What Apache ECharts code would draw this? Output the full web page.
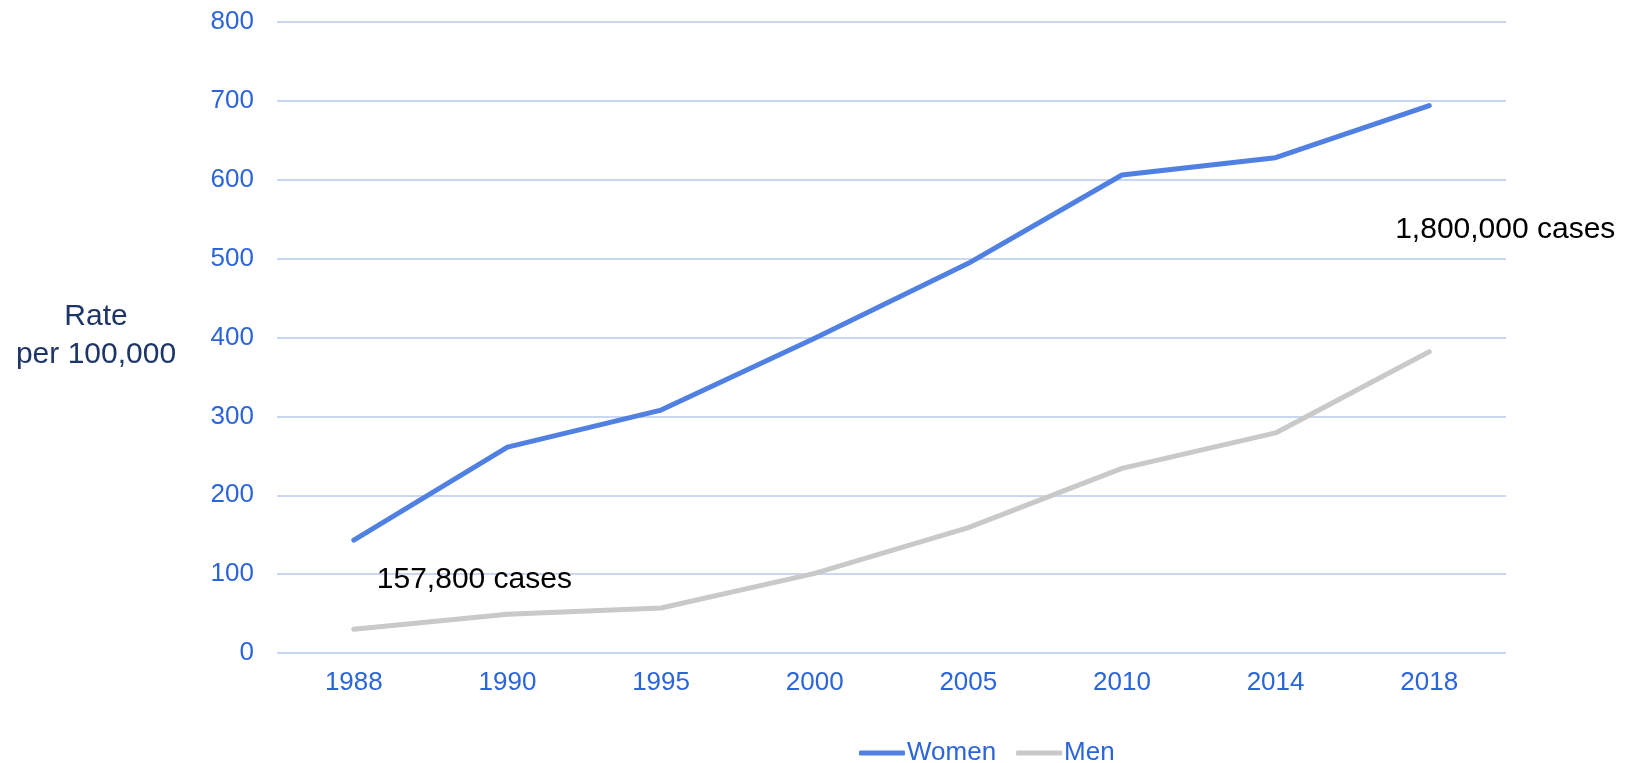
<!DOCTYPE html>
<html>
<head>
<meta charset="utf-8">
<script src="https://cdn.jsdelivr.net/npm/echarts@6/dist/echarts.min.js"></script>
<style>
  html, body { margin: 0; padding: 0; background: #fff; }
  #chart { width: 1628px; height: 763px; }
</style>
</head>
<body>
<div id="chart"></div>
<script>
// 数据
var years = ['1988', '1990', '1995', '2000', '2005', '2010', '2014', '2018'];
var women = [143, 261, 308, 399, 494, 606, 628, 694];
var men = [30, 49, 57, 101, 159, 234, 279, 382];
var yTicks = [0, 800, 100]; // min, max, interval
var notes = [
    { text: '157,800 cases', year: '1988', value: 93, dx: 23 },
    { text: '1,800,000 cases', year: '2018', value: 537, dx: -34 }
];

(function(){
    var myChart = echarts.init(document.getElementById('chart'));
    var font = '"Liberation Sans", Arial, sans-serif';
    var blue = '#2b65d9';

    // 注释文字（挂在数据坐标上）
    function note(n) {
        return {
            symbol: 'circle',
            symbolSize: 0,
            label: {
                show: true,
                position: 'inside',
                align: 'left',
                color: '#000',
                fontSize: 30,
                fontFamily: font,
                offset: [n.dx, 0],
                formatter: n.text
            },
            data: [{ coord: [n.year, n.value] }]
        };
    }

    var option = {
        animation: false,
        textStyle: { fontFamily: font },
        grid: {
            left: 277,
            right: 122,
            top: 22,
            bottom: 110
        },
        title: {
            text: 'Rate\nper 100,000',
            left: 96,
            top: 298,
            padding: 0,
            textAlign: 'center',
            textStyle: {
                color: '#1d3567',
                fontSize: 30,
                fontWeight: 'normal',
                lineHeight: 38,
                fontFamily: font
            }
        },
        legend: {
            data: ['Women', 'Men'],
            left: 854,
            top: 735,
            padding: 5,
            icon: 'roundRect',
            itemWidth: 46,
            itemHeight: 5,
            itemGap: 20,
            textStyle: {
                color: blue,
                fontSize: 26,
                fontFamily: font,
                padding: [0, 0, 0, -3]
            }
        },
        xAxis: {
            type: 'category',
            data: years,
            axisLine: { show: false },
            axisTick: { show: false },
            axisLabel: {
                color: blue,
                fontSize: 26,
                margin: 17,
                fontFamily: font
            }
        },
        yAxis: {
            type: 'value',
            min: yTicks[0],
            max: yTicks[1],
            interval: yTicks[2],
            axisLine: { show: false },
            axisTick: { show: false },
            axisLabel: {
                color: blue,
                fontSize: 26,
                margin: 23,
                fontFamily: font
            },
            splitLine: {
                lineStyle: { color: '#c9d7f3', width: 2 }
            }
        },
        series: [
            {
                name: 'Women',
                type: 'line',
                data: women,
                symbol: 'none',
                color: '#4f80e2',
                lineStyle: { width: 5, color: '#4f80e2', cap: 'round', join: 'round' },
                markPoint: note(notes[1])
            },
            {
                name: 'Men',
                type: 'line',
                data: men,
                symbol: 'none',
                color: '#c9c9c9',
                lineStyle: { width: 5, color: '#c9c9c9', cap: 'round', join: 'round' },
                markPoint: note(notes[0])
            }
        ]
    };
    myChart.setOption(option);
})();
</script>
</body>
</html>
